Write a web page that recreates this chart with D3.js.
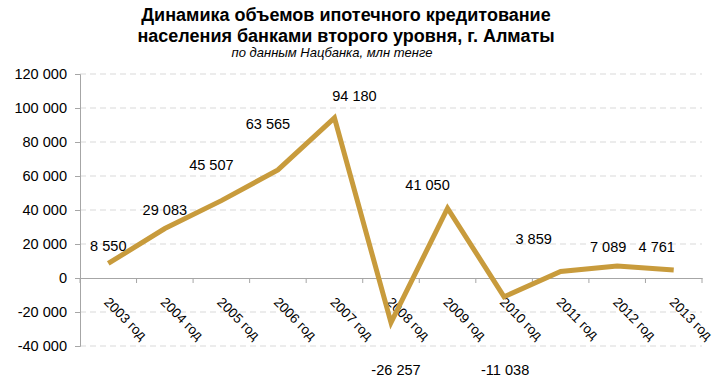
<!DOCTYPE html>
<html><head><meta charset="utf-8">
<script src="https://cdn.jsdelivr.net/npm/d3@7"></script>
<style>body{margin:0;background:#fff}svg{display:block;font-family:"Liberation Sans",Arial,sans-serif}</style>
</head><body><svg id="c" width="720" height="381"></svg>
<script>
const categories = ["2003 год","2004 год","2005 год","2006 год","2007 год","2008 год","2009 год","2010 год","2011 год","2012 год","2013 год"];
const values = [8550, 29083, 45507, 63565, 94180, -26257, 41050, -11038, 3859, 7089, 4761];
const yTicks = [-40000,-20000,0,20000,40000,60000,80000,100000,120000];
const titleLines = ["Динамика объемов ипотечного кредитование","населения банками второго уровня, г. Алматы"];
const subtitle = "по данным Нацбанка, млн тенге";
// label offsets (dx, dy) relative to point (baseline), in px
const labelOffsets = [[0,-12],[0,-13.5],[-10,-31],[-10,-40.5],[20,-17],[5,52.5],[-20,-18],[1,78],[-27,-27.5],[-9,-13.5],[-17,-17.5]];

const svg = d3.select("#c");
const L = 80, R = 702;
const SX = 1.04;
const x = d3.scaleBand().domain(categories).range([L, R]);
const y = d3.scaleLinear().domain([-40000,120000]).range([346, 74]);
const fmt = v => d3.format(",")(v).replace(/,/g," ").replace("−","-");

// gridlines
svg.append("g").selectAll("line").data(yTicks.filter(d=>d!==0)).join("line")
  .attr("x1",L).attr("x2",R).attr("y1",d=>y(d)).attr("y2",d=>y(d))
  .attr("stroke","#d9d9d9").attr("stroke-dasharray","6,4").attr("stroke-width",1);

// y axis
const ya = svg.append("g").attr("transform",`translate(${L},0)`)
  .call(d3.axisLeft(y).tickValues(yTicks).tickFormat(fmt).tickSize(5).tickPadding(0));
ya.select(".domain").attr("stroke","#a6a6a6");
ya.selectAll(".tick line").attr("stroke","#a6a6a6");
ya.selectAll("text").attr("font-size",14).attr("fill","#000").attr("x",0)
  .attr("transform",`translate(-13,0) scale(${SX},1)`);

// x axis at zero
const xa = svg.append("g").attr("transform",`translate(0,${y(0)})`)
  .call(d3.axisBottom(x).tickSize(0).tickFormat(""));
xa.select(".domain").attr("stroke","#a6a6a6");
svg.append("g").selectAll("line").data(d3.range(categories.length+1)).join("line")
  .attr("x1",i=>L+i*x.step()).attr("x2",i=>L+i*x.step())
  .attr("y1",y(0)).attr("y2",y(0)+5).attr("stroke","#a6a6a6");
svg.append("g").selectAll("text").data(categories).join("text")
  .attr("transform",d=>`translate(${x(d)+x.bandwidth()/2-5},${y(0)+25}) rotate(45)`)
  .attr("font-size",13.5).attr("fill","#000").text(d=>d);

// line
const pts = categories.map((c,i)=>[x(c)+x.bandwidth()/2, y(values[i])]);
svg.append("path").attr("d",d3.line()(pts)).attr("fill","none")
  .attr("stroke","#c89b3c").attr("stroke-width",5).attr("stroke-linejoin","miter");

// data labels
svg.append("g").selectAll("text").data(values).join("text")
  .attr("transform",(d,i)=>`translate(${pts[i][0]+labelOffsets[i][0]},${pts[i][1]+labelOffsets[i][1]}) scale(${SX},1)`)
  .attr("text-anchor","middle").attr("font-size",14).attr("fill","#000").text(d=>fmt(d));

// titles
svg.append("g").selectAll("text").data(titleLines).join("text")
  .attr("x",346).attr("y",(d,i)=>21+i*21).attr("text-anchor","middle")
  .attr("font-size",18).attr("font-weight","bold").attr("fill","#000").text(d=>d);
svg.append("text").attr("x",332).attr("y",57).attr("text-anchor","middle")
  .attr("font-size",13).attr("font-style","italic").attr("fill","#000").text(subtitle);
</script></body></html>
